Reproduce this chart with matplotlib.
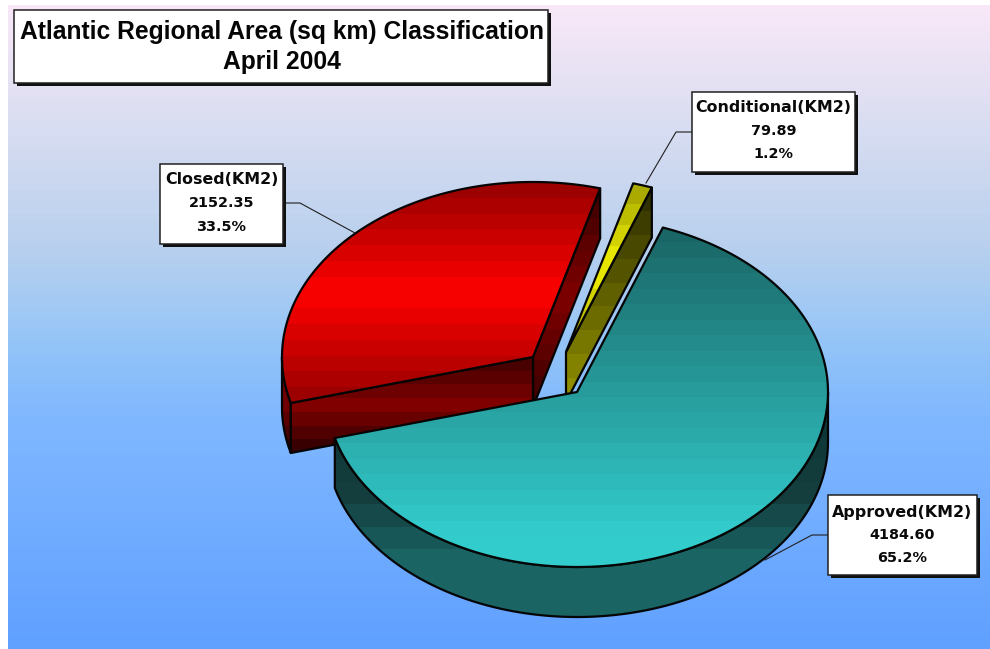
import numpy as np
import matplotlib
matplotlib.use("Agg")
import matplotlib.pyplot as plt
from matplotlib.colors import to_rgb
from matplotlib.patches import Polygon, Rectangle

# Chart content
title_lines = ["Atlantic Regional Area (sq km) Classification", "April 2004"]
categories = ["Approved(KM2)", "Conditional(KM2)", "Closed(KM2)"]
areas = [4184.60, 79.89, 2152.35]

# Pie geometry in figure pixels (y grows downward)
START_DEG = 70.0
RX, RY, DEPTH = 251.0, 175.0, 50.0
apexes = [(577, 392), (566, 352), (533, 357)]

fig = plt.figure(figsize=(9.9, 6.49), dpi=100, facecolor="white")
ax = fig.add_axes([0, 0, 1, 1])

# Faces are painted back to front, each one above the last
layer = [1.0]


def gradient(verts, stops, band=15):
    """Fill a polygon with horizontal colour bands and outline it in black."""
    verts = np.asarray(verts)
    x0, x1 = verts[:, 0].min(), verts[:, 0].max()
    y0, y1 = verts[:, 1].min(), verts[:, 1].max()
    rows = max(int((y1 - y0) / band), 1)
    frac = (np.arange(rows) + 0.5) / rows
    fx = [s[0] for s in stops]
    rgb = np.array([to_rgb(s[1]) for s in stops])
    img = np.stack([np.interp(frac, fx, rgb[:, i]) for i in range(3)], axis=1)[:, None, :]
    layer[0] += 0.01
    im = ax.imshow(img, extent=(x0, x1, y1, y0), aspect="auto",
                   interpolation="nearest", zorder=layer[0])
    im.set_clip_path(Polygon(verts, closed=True, transform=ax.transData))
    layer[0] += 0.01
    ax.add_patch(Polygon(verts, closed=True, fill=False, edgecolor="#050505",
                         linewidth=1.6, joinstyle="round", zorder=layer[0]))


def rim(apex, t0, t1, n=120):
    t = np.radians(np.linspace(t0, t1, n))
    return np.column_stack([apex[0] + RX * np.cos(t), apex[1] - RY * np.sin(t)])


def shift(pts, dy=DEPTH):
    return np.asarray(pts) + np.array([0, dy])


def callout(x0, y0, x1, y1, lines, leader):
    ax.add_patch(Rectangle((x0 + 3, y0 + 3), x1 - x0, y1 - y0, facecolor="#101010",
                           edgecolor="none", zorder=6))
    ax.add_patch(Rectangle((x0, y0), x1 - x0, y1 - y0, facecolor="white",
                           edgecolor="#202020", linewidth=1.1, zorder=7))
    lx, ly = zip(*leader)
    ax.plot(lx, ly, color="#202020", linewidth=0.8, zorder=5, solid_joinstyle="miter")
    cx = (x0 + x1) / 2
    for k, (y, s) in enumerate(lines):
        ax.text(cx, y, s, ha="center", va="center", fontsize=11.4 if k == 0 else 10.4,
                fontweight="bold", family="DejaVu Sans", color="#0a0a0a", zorder=8)


# Sky-like backdrop
sky_y = [5, 100, 250, 350, 420, 649]
sky_c = ["#f9e8f8", "#e0e0f2", "#b8d0ee", "#92c4f8", "#80b8ff", "#60a0ff"]
rows = np.arange(5, 649, 6) + 3.0
sky_rgb = np.array([to_rgb(c) for c in sky_c])
sky = np.stack([np.interp(rows, sky_y, sky_rgb[:, i]) for i in range(3)], axis=1)[:, None, :]
ax.imshow(sky, extent=(8, 990, 649, 5), aspect="auto", interpolation="nearest", zorder=0)

# Slice angles, running clockwise from the start angle
values = np.array(areas)
shares = values / values.sum()
a_start = START_DEG
a_end = a_start - shares[0] * 360.0             # approved sweeps clockwise
c_end = a_start + shares[1] * 360.0             # conditional follows counter-clockwise
r_end = c_end + shares[2] * 360.0               # closed ends on the left side

# Closed slice
apex = apexes[2]
arc = rim(apex, c_end, r_end)
p_top = arc[0]
p_left = arc[-1]
ap = np.array(apex, float)
gradient([p_top, ap, shift([ap])[0], shift([p_top])[0]],
         [(0, "#380000"), (0.5, "#800000"), (1, "#380000")])
side = rim(apex, 180, r_end, 40)
gradient(np.vstack([side, shift(side)[::-1]]),
         [(0, "#800000"), (0.5, "#700000"), (1, "#2c0000")], band=12)
gradient([ap, p_left, shift([p_left])[0], shift([ap])[0]],
         [(0, "#400000"), (0.5, "#800000"), (1, "#2c0000")], band=12)
gradient(np.vstack([ap[None], arc]),
         [(0, "#960000"), (0.5, "#ff0000"), (1, "#960000")])

# Conditional slice
apex = apexes[1]
ap = np.array(apex, float)
arc = rim(apex, a_start, c_end, 20)
p_right = arc[0]
gradient([p_right, ap, shift([ap])[0], shift([p_right])[0]],
         [(0, "#2c2c00"), (1, "#949400")], band=22)
gradient(np.vstack([ap[None], arc]),
         [(0, "#a0a000"), (0.5, "#f0f000"), (1, "#a0a000")], band=20)

# Approved slice
apex = apexes[0]
ap = np.array(apex, float)
front = rim(apex, 0, a_end, 160)
gradient(np.vstack([front, shift(front)[::-1]]),
         [(0, "#0c3232"), (0.45, "#143e3e"), (0.75, "#1a6464"), (1, "#1a6464")], band=22)
arc = rim(apex, a_start, a_end, 260)
gradient(np.vstack([ap[None], arc]),
         [(0, "#1a6464"), (0.9, "#33cccc"), (1, "#33cccc")], band=15)


# Value callouts
def callout_lines(i, ys):
    return list(zip(ys, [categories[i], f"{areas[i]:.2f}", f"{shares[i] * 100:.1f}%"]))


callout(160, 164, 283, 244, callout_lines(2, [179, 203, 227]),
        [(283, 203), (300, 203), (355, 233)])
callout(692, 92, 855, 172, callout_lines(1, [108, 131, 154]),
        [(692, 132), (676, 132), (646, 183)])
callout(828, 495, 977, 575, callout_lines(0, [512, 535, 558]),
        [(828, 535), (812, 535), (765, 560)])

# Title panel
ax.add_patch(Rectangle((17, 13), 534, 73, facecolor="#101010", edgecolor="none", zorder=6))
ax.add_patch(Rectangle((14, 10), 534, 73, facecolor="white", edgecolor="#202020",
                       linewidth=1.1, zorder=7))
for y, s in zip([32, 62], title_lines):
    ax.text(282, y, s, ha="center", va="center", fontsize=17.7, fontweight="bold",
            family="Liberation Sans", color="#050505", zorder=8)

ax.set_xlim(0, 990)
ax.set_ylim(649, 0)
ax.axis("off")
fig.savefig("out.png", dpi=100, facecolor="white")
